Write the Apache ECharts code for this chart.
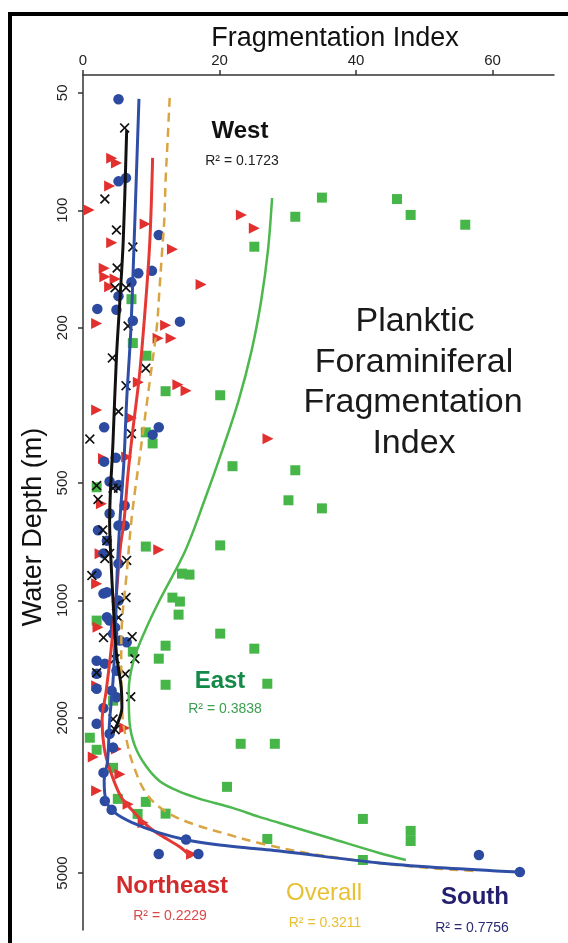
<!DOCTYPE html>
<html>
<head>
<meta charset="utf-8">
<script src="https://cdn.jsdelivr.net/npm/echarts@6.0.0/dist/echarts.min.js"></script>
<style>
  html, body { margin: 0; padding: 0; background: #fff; }
  #chart { width: 568px; height: 943px; }
</style>
</head>
<body>
<div id="chart"></div>
<script>
// Tick values
const depthTicks = [50, 100, 200, 500, 1000, 2000, 5000];
const fragTicks = [0, 20, 40, 60];

// Samples: [fragmentation index, water depth (m)]
const westPoints = [
  [6.1, 61.5], [3.2, 93.6], [4.9, 112.3], [7.3, 124.2], [5.0, 140.6], [4.7, 158], [6.3, 158],
  [6.6, 198], [4.3, 239], [9.2, 254], [6.3, 281.6], [5.2, 328], [7.1, 374], [1.0, 386],
  [2.0, 508], [2.2, 551], [4.4, 516], [5.2, 516], [2.9, 660], [3.5, 703], [3.9, 758],
  [3.2, 781], [6.4, 790], [1.3, 864], [6.3, 983], [4.9, 1031], [5.2, 1107], [3.0, 1246],
  [7.2, 1239], [4.7, 1411], [7.6, 1411], [2.0, 1533], [6.2, 1545], [7.0, 1766], [4.4, 2016],
  [4.7, 2145]
];
const northeastPoints = [
  [4.2, 73.6], [4.9, 75.7], [3.9, 86.6], [0.9, 99.9], [9.1, 108.4], [4.2, 121.1], [13.1, 125.8],
  [3.1, 140.8], [3.2, 148], [4.7, 150], [3.9, 157], [17.3, 155], [2.0, 195], [12.1, 197],
  [11.0, 213], [12.9, 213], [23.2, 102.8], [25.1, 111.2], [8.1, 276], [13.9, 280], [15.1, 290],
  [2.0, 325], [7.1, 341], [27.1, 385], [3.0, 433], [6.4, 429], [2.7, 565], [2.5, 760],
  [11.1, 742], [2.0, 907], [2.2, 1172], [2.0, 1655], [6.1, 2123], [1.5, 2520], [4.9, 2406],
  [2.0, 3079], [5.4, 2790], [6.6, 3331], [8.8, 3715], [15.9, 4478]
];
const southPoints = [
  [5.2, 51.9], [5.2, 84.3], [6.3, 82.6], [11.1, 115.7], [10.1, 143], [8.1, 145], [7.1, 153],
  [5.2, 166], [2.1, 179], [4.9, 180], [7.3, 192], [14.2, 193], [3.1, 360], [11.1, 360],
  [10.2, 376], [3.1, 441], [4.8, 431], [3.9, 496], [5.2, 506], [6.1, 571], [3.9, 599],
  [2.2, 661], [3.5, 703], [5.2, 643], [6.1, 643], [3.0, 758], [5.2, 805], [2.0, 854],
  [3.0, 961], [3.5, 1105], [4.4, 1217], [5.4, 1268], [4.7, 1173], [6.4, 1280], [3.2, 1453],
  [2.0, 1428], [2.0, 1542], [4.9, 1516], [2.0, 1685], [4.2, 1704], [4.9, 1771], [3.0, 1889],
  [2.0, 2072], [3.9, 2198], [4.4, 2384], [3.0, 2765], [3.2, 3268], [4.2, 3441], [15.1, 4101],
  [11.1, 4469], [16.9, 4469], [58.0, 4496], [64.0, 4972], [3.5, 953], [5.2, 1001], [3.9, 1127]
];
const eastPoints = [
  [35.0, 92.8], [31.1, 103.9], [46.0, 93.6], [48.0, 102.8], [56.0, 108.9], [25.1, 124],
  [7.1, 169], [7.3, 219], [9.3, 236], [12.1, 291], [20.1, 298], [9.2, 371], [10.2, 396],
  [21.9, 453], [2.0, 513], [31.1, 464], [30.1, 554], [35.0, 581], [9.2, 728], [20.1, 723],
  [14.5, 854], [15.6, 859], [13.1, 984], [14.2, 1007], [14.0, 1088], [20.1, 1217], [12.1, 1307],
  [25.1, 1330], [11.1, 1411], [12.1, 1646], [27.0, 1636], [23.1, 2332], [28.1, 2332],
  [21.1, 3007], [41.0, 3634], [48.0, 3900], [48.0, 4139], [27.0, 4090], [41.0, 4630],
  [1.0, 2250], [2.0, 2416], [4.4, 2688], [5.1, 3228], [9.2, 3286], [8.0, 3528], [12.1, 3522],
  [2.0, 1127], [4.4, 1808], [7.3, 1354]
];

// Regression curves: [fragmentation index, water depth (m)]
const westFit = [
  [6.4, 62.3], [5.9, 119.2], [5.4, 170.6], [4.9, 238], [4.4, 391], [3.9, 628], [4.1, 790],
  [4.4, 1001], [4.9, 1370], [5.6, 1675], [5.7, 1885], [5.1, 2060], [4.4, 2185]
];
const northeastFit = [
  [10.2, 73.4], [9.8, 119], [9.2, 170.6], [8.3, 261.6], [7.3, 366], [6.6, 472.5], [6.0, 628],
  [5.5, 725], [4.8, 1001], [4.1, 1346], [3.4, 1704], [2.8, 2036], [3.1, 2388], [3.9, 2704],
  [5.5, 3171], [7.3, 3466], [9.8, 3833], [12.3, 4090], [14.2, 4288], [15.9, 4549]
];
const southFit = [
  [8.2, 51.8], [7.8, 83.4], [7.4, 134], [7.0, 204], [6.4, 306], [6.0, 439], [5.4, 628],
  [5.0, 854], [4.7, 1268], [4.4, 1607], [3.9, 2036], [3.6, 2579], [3.1, 2903], [3.4, 3268],
  [4.7, 3508], [7.3, 3721], [11.2, 3947], [15.2, 4114], [20.0, 4238], [25.8, 4339],
  [28.8, 4391], [43.4, 4714], [53.1, 4855], [63.8, 4972]
];
const eastFit = [
  [27.7, 93.0], [27.1, 126.5], [26.1, 170.6], [24.7, 229], [22.8, 307], [20.4, 412.5],
  [17.8, 554], [15.0, 745], [11.2, 1001], [9.1, 1196], [7.4, 1428], [6.7, 1705], [6.8, 2036],
  [7.6, 2360], [9.2, 2656], [11.2, 2903], [13.9, 3080], [17.1, 3228], [21.9, 3405],
  [25.8, 3591], [28.8, 3721], [36.1, 4066], [43.4, 4443], [47.3, 4630]
];
const overallFit = [
  [12.7, 51.5], [12.4, 66], [12.1, 83.9], [11.9, 106.5], [11.6, 126.4], [11.2, 160], [10.8, 200],
  [9.8, 272.6], [8.5, 405], [7.2, 599], [6.4, 854], [5.7, 1147], [5.6, 1428], [5.8, 2000],
  [6.4, 2290], [7.3, 2625], [9.3, 3134], [12.2, 3486], [16.1, 3743], [21.0, 3971], [25.8, 4188],
  [33.6, 4469], [43.4, 4714], [50.7, 4854], [57.5, 4942]
];

const FONT = '"Liberation Sans", Arial, Helvetica, sans-serif';
const CROSS = 'path://M0,1.2L1.2,0L5,3.8L8.8,0L10,1.2L6.2,5L10,8.8L8.8,10L5,6.2L1.2,10L0,8.8L3.8,5Z';
const RIGHT_TRIANGLE = 'path://M0,0L10,5L0,10Z';

function scatter(name, data, symbol, size, color, z) {
  return {
    name, type: 'scatter', data, symbol, symbolSize: size, z,
    itemStyle: { color, opacity: 1 },
    emphasis: { disabled: true }
  };
}
function fit(name, data, color, width, dashed, z) {
  return {
    name, type: 'line', data, showSymbol: false, smooth: 0.35, z,
    lineStyle: { color, width, type: dashed ? [9, 6] : 'solid', cap: 'butt' },
    emphasis: { disabled: true }
  };
}
function label(text, x, y, size, color, weight, rotation) {
  return {
    type: 'text', x, y, z: 100, rotation: rotation || 0,
    style: {
      text, fill: color, font: (weight || 'normal') + ' ' + size + 'px ' + FONT,
      textAlign: 'center', textVerticalAlign: 'middle', align: 'center', verticalAlign: 'middle'
    }
  };
}

const chart = echarts.init(document.getElementById('chart'), null, { renderer: 'canvas' });
chart.setOption({
  animation: false,
  backgroundColor: '#fff',
  textStyle: { fontFamily: FONT },
  grid: { left: 83, top: 75, right: 14, bottom: 13 },
  xAxis: {
    type: 'value', position: 'top', min: 0, max: 69,
    axisLine: { show: true, lineStyle: { color: '#333', width: 1.5 } },
    axisTick: { show: true, length: 5, customValues: fragTicks, lineStyle: { color: '#333', width: 1.5 } },
    axisLabel: { customValues: fragTicks, fontSize: 15, color: '#222', margin: 7, fontFamily: FONT },
    splitLine: { show: false }
  },
  yAxis: {
    type: 'log', logBase: 10, inverse: true, min: 45, max: 7000,
    axisLine: { show: true, lineStyle: { color: '#333', width: 1.5 } },
    axisTick: { show: true, length: 5, customValues: depthTicks, lineStyle: { color: '#333', width: 1.5 } },
    axisLabel: {
      customValues: depthTicks, rotate: 90, fontSize: 15, color: '#222', margin: 13, fontFamily: FONT,
      formatter: (v) => String(Math.round(v))
    },
    splitLine: { show: false }
  },
  series: [
    scatter('East', eastPoints, 'rect', 10, '#47b649', 2),
    scatter('Northeast', northeastPoints, RIGHT_TRIANGLE, 11, '#e2302f', 3),
    scatter('South', southPoints, 'circle', 10.5, '#2b4aa0', 4),
    scatter('West', westPoints, CROSS, 10, '#111', 5),
    fit('East fit', eastFit, '#4cb84e', 2.5, false, 6),
    fit('Overall fit', overallFit, '#d9a442', 2.5, true, 7),
    fit('Northeast fit', northeastFit, '#e53935', 3, false, 8),
    fit('South fit', southFit, '#2f4ea6', 3, false, 9),
    fit('West fit', westFit, '#111', 3, false, 10)
  ],
  graphic: [
    { type: 'rect', z: 0, shape: { x: 10, y: 14, width: 640, height: 1000 },
      style: { fill: 'none', stroke: '#000', lineWidth: 4 } },
    label('Fragmentation Index', 335, 39, 27, '#111'),
    label('Water Depth (m)', 34, 527, 27, '#111', 'normal', Math.PI / 2),
    label('West', 240, 131, 24, '#111', 'bold'),
    label('R² = 0.1723', 242, 161, 14, '#222'),
    label('Planktic', 415, 322, 34, '#1a1a1a'),
    label('Foraminiferal', 414, 363, 34, '#1a1a1a'),
    label('Fragmentation', 413, 403, 34, '#1a1a1a'),
    label('Index', 414, 444, 34, '#1a1a1a'),
    label('East', 220, 681, 24, '#138a48', 'bold'),
    label('R² = 0.3838', 225, 709, 14, '#3a9f4f'),
    label('Northeast', 172, 886, 24, '#d32b2b', 'bold'),
    label('R² = 0.2229', 170, 916, 14, '#d84a4a'),
    label('Overall', 324, 893, 24, '#e8c033'),
    label('R² = 0.3211', 325, 923, 14, '#e8c033'),
    label('South', 475, 897, 24, '#231f6e', 'bold'),
    label('R² = 0.7756', 472, 928, 14, '#2a2a70')
  ]
});
</script>
</body>
</html>
